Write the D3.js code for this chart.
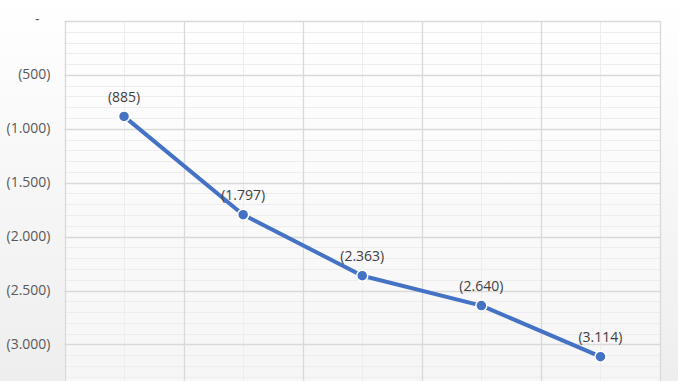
<!DOCTYPE html>
<html><head><meta charset="utf-8">
<script src="https://cdn.jsdelivr.net/npm/d3@7"></script>
<style>html,body{margin:0;padding:0;background:#fff;}svg{display:block;}</style>
</head><body>
<svg id="c" width="678" height="381"></svg>
<script>
const categories = ["1","2","3","4","5"];
const values = [-885, -1797, -2363, -2640, -3114];
const valueLabels = ["(885)","(1.797)","(2.363)","(2.640)","(3.114)"];
const yTicks = [0, -500, -1000, -1500, -2000, -2500, -3000];
const yTickLabels = ["-", "(500)", "(1.000)", "(1.500)", "(2.000)", "(2.500)", "(3.000)"];
const minorStep = 100;

const W = 678, H = 381;
const m = {left: 64.5, right: 18, top: 21};
const svg = d3.select("#c");
const defs = svg.append("defs");
const g1 = defs.append("linearGradient").attr("id","bg").attr("x1",0).attr("y1",0).attr("x2",0).attr("y2",1);
g1.append("stop").attr("offset","0%").attr("stop-color","#ffffff");
g1.append("stop").attr("offset","100%").attr("stop-color","#eeeeee");
svg.append("rect").attr("width",W).attr("height",H).attr("fill","url(#bg)");

const x = d3.scaleBand().domain(categories).range([m.left, W - m.right]);
const y = d3.scaleLinear().domain([0, -3500]).range([m.top, m.top + 7*53.9]);

const plot = svg.append("g");
plot.append("rect").attr("x", m.left).attr("y", m.top).attr("width", x.range()[1]-m.left).attr("height", H - m.top)
  .attr("fill","#ffffff").attr("opacity",0.45);

const minor = d3.range(0, -3500, -minorStep).filter(v => v % 500 !== 0);
plot.selectAll(".hmin").data(minor).join("line")
  .attr("x1", m.left).attr("x2", x.range()[1])
  .attr("y1", d => Math.round(y(d))+0.5).attr("y2", d => Math.round(y(d))+0.5)
  .attr("stroke","#ededed").attr("stroke-width",1);
plot.selectAll(".vmin").data(categories).join("line")
  .attr("x1", d => Math.round(x(d)+x.bandwidth()/2)+0.5).attr("x2", d => Math.round(x(d)+x.bandwidth()/2)+0.5)
  .attr("y1", m.top).attr("y2", H)
  .attr("stroke","#ededed").attr("stroke-width",1);
plot.selectAll(".hmaj").data(yTicks).join("line")
  .attr("x1", m.left).attr("x2", x.range()[1])
  .attr("y1", d => Math.round(y(d))+0.5).attr("y2", d => Math.round(y(d))+0.5)
  .attr("stroke","#d9d9d9").attr("stroke-width",1.3);
const edges = categories.map(c => x(c)).concat([x.range()[1]]);
plot.selectAll(".vmaj").data(edges).join("line")
  .attr("x1", d => Math.round(d)+0.5).attr("x2", d => Math.round(d)+0.5)
  .attr("y1", m.top).attr("y2", H)
  .attr("stroke","#d9d9d9").attr("stroke-width",1.3);

const yAxis = d3.axisLeft(y).tickValues(yTicks).tickSize(0).tickPadding(0)
  .tickFormat((d,i) => yTickLabels[i]);
const ya = svg.append("g").attr("transform", `translate(${m.left-14},0)`).call(yAxis);
ya.select(".domain").remove();
ya.selectAll("text").attr("font-family","'Open Sans', sans-serif").attr("font-size",14).attr("fill","#595959").attr("dy","0.28em");
ya.selectAll(".tick").filter(d => d === 0).select("text").attr("dy","0.2em").attr("transform","translate(-11,0)");

const cx = d => x(d) + x.bandwidth()/2;
const line = d3.line().x((d,i) => cx(categories[i])).y(d => y(d));
svg.append("path").datum(values).attr("d", line).attr("fill","none")
  .attr("stroke","#4472C4").attr("stroke-width",4).attr("stroke-linejoin","round");
svg.selectAll(".pt").data(values).join("circle")
  .attr("cx",(d,i) => cx(categories[i])).attr("cy", d => y(d)).attr("r",5.5)
  .attr("fill","#4472C4").attr("stroke","#ffffff").attr("stroke-width",1.5);
svg.selectAll(".lbl").data(values).join("text")
  .attr("x",(d,i) => cx(categories[i])).attr("y", d => y(d) - 14.5)
  .attr("text-anchor","middle")
  .attr("font-family","'Open Sans', sans-serif").attr("font-size",14).attr("fill","#404040")
  .text((d,i) => valueLabels[i]);
</script>
</body></html>
